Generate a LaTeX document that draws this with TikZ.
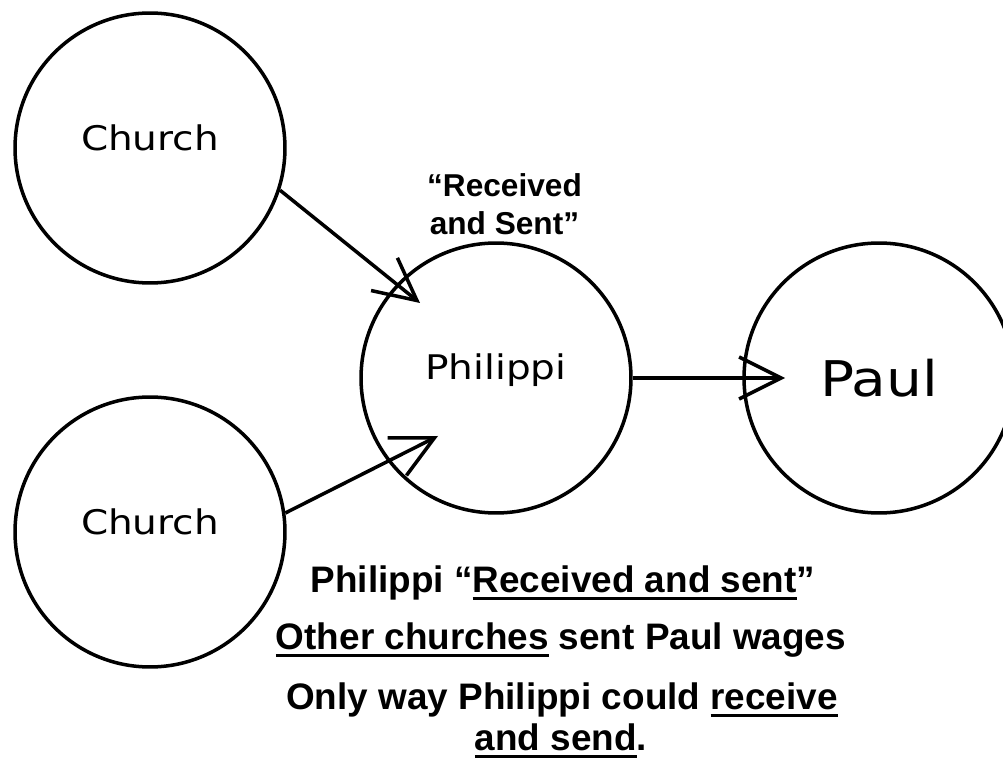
\documentclass[tikz,border=0pt]{standalone}
\usepackage{fontspec}
\setmainfont{Liberation Sans}
\newfontfamily\placefont[FakeStretch=1.15]{DejaVu Sans}
\usetikzlibrary{arrows.meta}
\usetikzlibrary{calc}
\newsavebox{\ulbox}
\newcommand{\thickul}[1]{\sbox{\ulbox}{#1}\rlap{\usebox{\ulbox}}\rule[-4.5pt]{\wd\ulbox}{1.7pt}}
\tikzset {
    place/.style = {shape=circle, draw=black, line width=2pt, minimum size=5.4cm, inner sep=0pt},
    flow/.style = {line width=2pt, -{Straight Barb[length=0.84cm, width=0.84cm]}},
    note/.style = {font=\bfseries\fontsize{21pt}{25pt}\selectfont, inner sep=0pt, anchor=base}
    %sent/.style = {font=\bfseries}
}

\begin{document}
\begin{tikzpicture}[x=0.02cm, y=-0.02cm]
	\useasboundingbox (0,0) rectangle (1003,759);
	\node (c1) [place, font=\placefont\fontsize{19.3pt}{23pt}\selectfont, text height=0.5cm, text depth=0.4cm] at (150,148) {Church};
	\node (c2) [place, font=\placefont\fontsize{19.3pt}{23pt}\selectfont, text height=0.5cm, text depth=0.4cm] at (150,532) {Church};
	\node (ph) [place, font=\placefont\fontsize{19.3pt}{23pt}\selectfont, text height=0.46cm, text depth=0.4cm,
	    label={[font=\bfseries\fontsize{18pt}{21.5pt}\selectfont, align=center, xshift=0.17cm]above:“Received\\and Sent”}] at (496,378) {Philippi};
	\node (paul) [place, font=\placefont\fontsize{28pt}{32pt}\selectfont, text height=0.74cm, text depth=0cm] at (879,378) {Paul};
	% arrow tips end inside the Philippi circle
	\coordinate (ph-in1) at ([shift={(-76,-75)}]ph.center);
	\coordinate (ph-in2) at ([shift={(-58,58)}]ph.center);
	\draw[flow] (c1.-18) -- (ph-in1);
	\draw[flow] (c2.8) -- (ph-in2);
	\draw[flow, shorten >=1.88cm] (ph) -- (paul.center);
	% notes below
	\node (note1) [note] at (563,592) {Philippi “\thickul{Received and sent}”};
	\node (note2) [note] at (561,649) {\thickul{Other churches} sent Paul wages};
	\node (note3) [note] at (562,709) {Only way Philippi could \thickul{receive}};
	\node (note4) [note] at (561,750) {\thickul{and send}.};
\end{tikzpicture}
\end{document}
